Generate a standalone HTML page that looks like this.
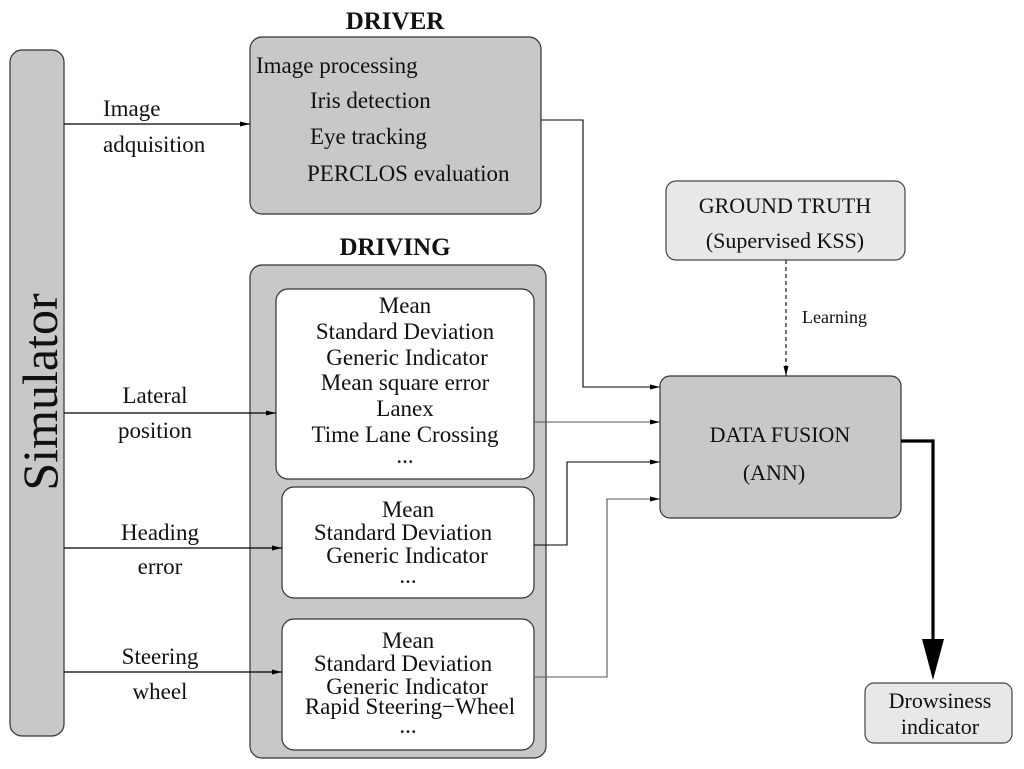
<!DOCTYPE html>
<html><head><meta charset="utf-8"><style>html,body{margin:0;padding:0;background:#fff}svg{display:block}text{font-family:"Liberation Serif","Times New Roman","DejaVu Serif",serif;fill:#111}</style></head><body>
<svg width="1024" height="769" viewBox="0 0 1024 769" xmlns="http://www.w3.org/2000/svg">
<defs><marker id="a" markerWidth="10" markerHeight="6" refX="10" refY="3" orient="auto" markerUnits="userSpaceOnUse"><path d="M0,0.5 L10,3 L0,5.5z" fill="#000"/></marker></defs>
<g font-family="Liberation Serif, Times New Roman, DejaVu Serif, serif">
<!-- Simulator -->
<rect x="10" y="50" width="54" height="686" rx="12" fill="#c8c8c8" stroke="#333" stroke-width="1.2"/>
<text transform="translate(57,392) rotate(-90)" font-size="50" text-anchor="middle">Simulator</text>
<!-- DRIVER -->
<text x="395" y="29" font-size="25" font-weight="bold" text-anchor="middle">DRIVER</text>
<rect x="250" y="37" width="291" height="177" rx="12" fill="#c8c8c8" stroke="#333" stroke-width="1.2"/>
<g font-size="23">
<text x="256" y="73">Image processing</text>
<text x="310" y="108">Iris detection</text>
<text x="310" y="144">Eye tracking</text>
<text x="307" y="181">PERCLOS evaluation</text>
</g>
<!-- DRIVING -->
<text x="395" y="255" font-size="25" font-weight="bold" text-anchor="middle">DRIVING</text>
<rect x="250" y="265" width="296" height="493" rx="12" fill="#c8c8c8" stroke="#333" stroke-width="1.2"/>
<rect x="276" y="289" width="258" height="190" rx="12" fill="#fff" stroke="#333" stroke-width="1.2"/>
<rect x="282" y="487" width="252" height="111" rx="12" fill="#fff" stroke="#333" stroke-width="1.2"/>
<rect x="282" y="619" width="252" height="131" rx="12" fill="#fff" stroke="#333" stroke-width="1.2"/>
<g font-size="23" text-anchor="middle">
<text x="405" y="313">Mean</text>
<text x="405" y="339">Standard Deviation</text>
<text x="407" y="365">Generic Indicator</text>
<text x="405" y="390">Mean square error</text>
<text x="405" y="416">Lanex</text>
<text x="405" y="442">Time Lane Crossing</text>
<text x="405" y="463">...</text>
<text x="408" y="517">Mean</text>
<text x="403" y="540">Standard Deviation</text>
<text x="407" y="563">Generic Indicator</text>
<text x="408" y="583">...</text>
<text x="408" y="648">Mean</text>
<text x="403" y="671">Standard Deviation</text>
<text x="407" y="694">Generic Indicator</text>
<text x="410" y="714">Rapid Steering−Wheel</text>
<text x="408" y="733">...</text>
</g>
<!-- left arrows & labels -->
<g stroke="#000" stroke-width="1.3" fill="none" marker-end="url(#a)">
<line x1="64" y1="124" x2="250" y2="124"/>
<line x1="64" y1="413" x2="276" y2="413"/>
<line x1="64" y1="548" x2="282" y2="548"/>
<line x1="64" y1="672" x2="282" y2="672"/>
</g>
<g font-size="23">
<text x="103" y="116">Image</text>
<text x="103" y="152">adquisition</text>
<text x="155" y="403" text-anchor="middle">Lateral</text>
<text x="155" y="438" text-anchor="middle">position</text>
<text x="160" y="540" text-anchor="middle">Heading</text>
<text x="160" y="574" text-anchor="middle">error</text>
<text x="160" y="664" text-anchor="middle">Steering</text>
<text x="160" y="699" text-anchor="middle">wheel</text>
</g>
<!-- connectors to fusion -->
<g stroke="#000" stroke-width="1.1" fill="none" marker-end="url(#a)">
<polyline points="541,120 583,120 583,387 660,387"/>
<polyline points="534,422 660,422" stroke="#555"/>
<polyline points="534,545 567,545 567,462 660,462"/>
<polyline points="534,677 607,677 607,499 660,499" stroke="#555"/>
<line x1="786" y1="260" x2="786" y2="376" stroke-dasharray="4,3"/>
</g>
<!-- ground truth -->
<rect x="666" y="181" width="239" height="79" rx="10" fill="#e8e8e8" stroke="#444" stroke-width="1.2"/>
<text x="785" y="213" font-size="22" text-anchor="middle">GROUND TRUTH</text>
<text x="785" y="248" font-size="22" text-anchor="middle">(Supervised KSS)</text>
<text x="802" y="323" font-size="18">Learning</text>
<!-- fusion -->
<rect x="660" y="376" width="241" height="142" rx="10" fill="#c8c8c8" stroke="#333" stroke-width="1.2"/>
<text x="780" y="442" font-size="22" text-anchor="middle">DATA FUSION</text>
<text x="774" y="480" font-size="22" text-anchor="middle">(ANN)</text>
<!-- thick arrow -->
<polyline points="901,441 933,441 933,642" stroke="#000" stroke-width="3.2" fill="none"/>
<path d="M922,639 L944,639 L933,680z" fill="#000"/>
<rect x="865" y="683" width="147" height="60" rx="9" fill="#e8e8e8" stroke="#444" stroke-width="1.2"/>
<text x="940" y="708" font-size="22" text-anchor="middle">Drowsiness</text>
<text x="940" y="734" font-size="22" text-anchor="middle">indicator</text>
</g>
</svg>
</body></html>
